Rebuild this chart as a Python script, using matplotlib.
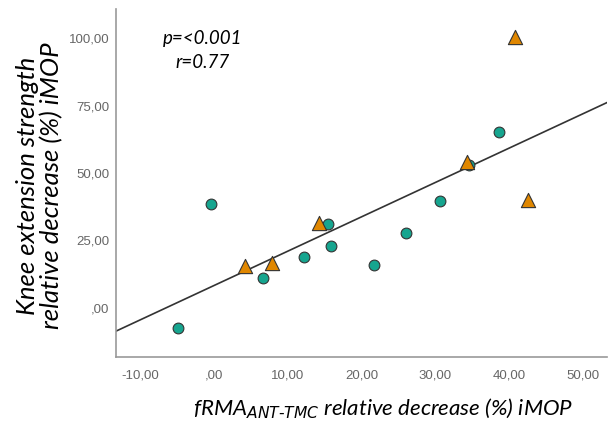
import matplotlib
matplotlib.use("Agg")
import matplotlib.pyplot as plt
import numpy as np

# circles (group 1)
x_circ = [-4.9, -0.4, 6.6, 12.2, 15.5, 15.9, 21.7, 26.1, 30.7, 34.6, 38.7]
y_circ = [-7.5, 38.4, 11.2, 19.0, 31.0, 23.0, 16.0, 27.6, 39.6, 53.0, 65.3]
# triangles (group 2)
x_tri = [4.2, 7.9, 14.2, 34.3, 40.8, 42.6]
y_tri = [15.5, 16.8, 31.3, 54.0, 100.4, 40.0]

xticks = [-10, 0, 10, 20, 30, 40, 50]
xtick_labels = ["-10,00", ",00", "10,00", "20,00", "30,00", "40,00", "50,00"]
yticks = [0, 25, 50, 75, 100]
ytick_labels = [",00", "25,00", "50,00", "75,00", "100,00"]

fig = plt.figure(figsize=(6.08, 4.22), dpi=100)
ax = fig.add_axes([0.191, 0.154, 0.807, 0.825])

# fit line over all points
xa = np.array(x_circ + x_tri)
ya = np.array(y_circ + y_tri)
slope, icpt = np.polyfit(xa, ya, 1)
xl = np.array([-13.3, 53.3])
ax.plot(xl, icpt + slope * xl, color="#333333", lw=1.2, zorder=2)

ax.scatter(x_circ, y_circ, s=60, marker="o", color="#16a58f",
           edgecolors="#333333", linewidths=0.8, zorder=3)
ax.scatter(x_tri, y_tri, s=105, marker="^", color="#e08700",
           edgecolors="#333333", linewidths=0.8, zorder=3)

ax.set_xlim(-13.3, 53.3)
ax.set_ylim(-18.3, 111)
ax.set_xticks(xticks)
ax.set_xticklabels(xtick_labels, family="Liberation Sans")
ax.set_yticks(yticks)
ax.set_yticklabels(ytick_labels, family="Liberation Sans")
ax.tick_params(length=0, labelsize=9.5, colors="#666666")
ax.tick_params(axis="x", pad=9)
ax.tick_params(axis="y", pad=5)
for s in ["top", "right"]:
    ax.spines[s].set_visible(False)
for s in ["left", "bottom"]:
    ax.spines[s].set_color("#999999")
    ax.spines[s].set_linewidth(1.2)

ax.text(0.177, 0.916, "p=<0.001", transform=ax.transAxes, ha="center",
        va="center", fontsize=13.5, style="italic", family="Lato")
ax.text(0.177, 0.847, "r=0.77", transform=ax.transAxes, ha="center",
        va="center", fontsize=13.5, style="italic", family="Lato")

fig.text(0.066, 0.56, "Knee extension strength\nrelative decrease (%) iMOP",
         rotation=90, ha="center", va="center", fontsize=18.5,
         style="italic", family="Lato", linespacing=1.05)
fig.text(0.63, 0.03, r"fRMA$_{\mathit{ANT}\text{-}\mathit{TMC}}$ relative decrease (%) iMOP",
         ha="center", va="center", fontsize=16, style="italic", family="Lato")

fig.savefig("out.png", dpi=100)
